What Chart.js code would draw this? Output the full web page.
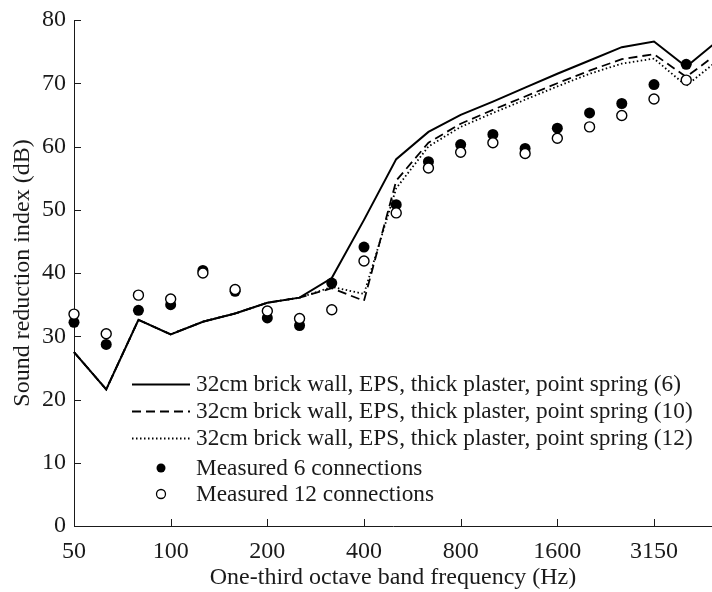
<!DOCTYPE html>
<html>
<head>
<meta charset="utf-8">
<title>Sound reduction index</title>
<script src="https://cdn.jsdelivr.net/npm/chart.js@4.4.1/dist/chart.umd.min.js"></script>
<style>
  html, body { margin: 0; padding: 0; background: #fff; }
  #c { display: block; }
</style>
</head>
<body>
<canvas id="c" width="712" height="592"></canvas>
<script>
// One-third octave band centre frequencies (Hz)
const bands = [50, 63, 80, 100, 125, 160, 200, 250, 315, 400, 500, 630, 800, 1000, 1250, 1600, 2000, 2500, 3150, 4000, 5000];
// Bands that carry a tick label on the frequency axis
const tickBands = [50, 100, 200, 400, 800, 1600, 3150];

// Predicted sound reduction index (dB), point-spring model with 6, 10 and 12 connections
const predicted6  = [27.5, 21.6, 32.6, 30.3, 32.3, 33.6, 35.3, 36.1, 39.2, 48.4, 58.0, 62.3, 65.0, 67.1, 69.3, 71.5, 73.6, 75.7, 76.6, 72.6, 76.8];
const predicted10 = [27.5, 21.6, 32.6, 30.3, 32.3, 33.6, 35.3, 36.1, 37.6, 35.6, 54.6, 60.6, 63.6, 65.8, 67.9, 70.0, 72.0, 73.8, 74.6, 71.0, 74.8];
const predicted12 = [27.5, 21.6, 32.6, 30.3, 32.3, 33.6, 35.3, 36.1, 37.8, 36.7, 53.4, 60.0, 63.1, 65.3, 67.4, 69.5, 71.5, 73.1, 73.9, 69.6, 73.7];

// Measured sound reduction index (dB), 50 Hz to 4000 Hz
const measured6  = [32.2, 28.7, 34.1, 35.0, 40.4, 37.1, 32.9, 31.7, 38.4, 44.1, 50.8, 57.6, 60.3, 61.9, 59.7, 62.9, 65.3, 66.8, 69.8, 73.0];
const measured12 = [33.5, 30.4, 36.5, 35.9, 40.0, 37.4, 34.0, 32.8, 34.2, 41.9, 49.5, 56.6, 59.1, 60.6, 58.9, 61.3, 63.1, 64.9, 67.5, 70.5];

const seriesNames = [
  '32cm brick wall, EPS, thick plaster, point spring (6)',
  '32cm brick wall, EPS, thick plaster, point spring (10)',
  '32cm brick wall, EPS, thick plaster, point spring (12)',
  'Measured 6 connections',
  'Measured 12 connections'
];

const FONT = 'Liberation Serif, Times New Roman, serif';
const FSIZE = 24;
const LEGEND_FSIZE = 23.3;
const INK = '#1a1a1a';

const toPoints = arr => arr.map((v, i) => ({ x: i, y: v }));

// Inward tick marks on both axes plus the in-plot legend
const axisDecor = {
  id: 'axisDecor',
  afterDraw(chart) {
    const { ctx, chartArea, scales: { x, y } } = chart;
    ctx.save();
    ctx.strokeStyle = INK;
    ctx.lineWidth = 1;
    ctx.beginPath();
    y.ticks.forEach(t => {
      const py = Math.round(y.getPixelForValue(t.value)) + 0.5;
      ctx.moveTo(chartArea.left, py);
      ctx.lineTo(chartArea.left + 7, py);
    });
    x.ticks.forEach(t => {
      const px = Math.round(x.getPixelForValue(t.value)) + 0.5;
      ctx.moveTo(px, chartArea.bottom);
      ctx.lineTo(px, chartArea.bottom - 7);
    });
    ctx.stroke();

    // legend
    const rows = [384, 411, 438, 468, 494];
    const x0 = 132, x1 = 190, tx = 196;
    ctx.font = LEGEND_FSIZE + 'px ' + FONT;
    ctx.textBaseline = 'middle';
    ctx.textAlign = 'left';
    chart.data.datasets.forEach((ds, i) => {
      const ry = rows[i];
      ctx.strokeStyle = '#000';
      ctx.fillStyle = '#000';
      if (ds.showLine !== false) {
        ctx.beginPath();
        ctx.lineWidth = ds.borderWidth;
        ctx.setLineDash(ds.borderDash || []);
        ctx.moveTo(x0, ry + 0.5);
        ctx.lineTo(x1, ry + 0.5);
        ctx.stroke();
        ctx.setLineDash([]);
      } else {
        ctx.beginPath();
        ctx.arc((x0 + x1) / 2, ry, 4.5, 0, Math.PI * 2);
        if (ds.pointBackgroundColor === '#000') {
          ctx.fill();
        } else {
          ctx.lineWidth = 1.3;
          ctx.stroke();
        }
      }
      ctx.fillStyle = INK;
      ctx.fillText(ds.label, tx, ry + 1);
    });
    ctx.restore();
  }
};

new Chart(document.getElementById('c'), {
  type: 'line',
  data: {
    datasets: [
      { label: seriesNames[0], data: toPoints(predicted6), borderColor: '#000', borderWidth: 2, pointRadius: 0, fill: false, clip: false, order: 3 },
      { label: seriesNames[1], data: toPoints(predicted10), borderColor: '#000', borderWidth: 1.8, borderDash: [9, 5], pointRadius: 0, fill: false, clip: false, order: 4 },
      { label: seriesNames[2], data: toPoints(predicted12), borderColor: '#000', borderWidth: 1.8, borderDash: [1.5, 2.5], pointRadius: 0, fill: false, clip: false, order: 5 },
      { label: seriesNames[3], data: toPoints(measured6), showLine: false, pointRadius: 5.5, pointBackgroundColor: '#000', pointBorderColor: '#000', pointBorderWidth: 0, clip: false, order: 2 },
      { label: seriesNames[4], data: toPoints(measured12), showLine: false, pointRadius: 5, pointBackgroundColor: '#fff', pointBorderColor: '#000', pointBorderWidth: 1.4, clip: false, order: 1 }
    ]
  },
  options: {
    responsive: false,
    animation: false,
    devicePixelRatio: 1,
    layout: { autoPadding: false, padding: { top: 20, right: 0, left: 0, bottom: 0 } },
    plugins: { legend: { display: false }, tooltip: { enabled: false } },
    elements: { line: { tension: 0 } },
    scales: {
      x: {
        type: 'linear',
        min: 0,
        max: 19.8,
        afterBuildTicks: s => { s.ticks = tickBands.map(f => ({ value: bands.indexOf(f) })); },
        afterFit: s => { s.height = 66; s.paddingLeft = 0; s.paddingRight = 0; },
        ticks: {
          autoSkip: false,
          maxRotation: 0,
          padding: 11,
          color: INK,
          font: { family: FONT, size: FSIZE },
          callback: v => String(bands[v])
        },
        grid: { drawOnChartArea: false, drawTicks: false },
        border: { display: true, color: INK, width: 1 },
        title: {
          display: true,
          text: 'One-third octave band frequency (Hz)',
          color: INK,
          font: { family: FONT, size: FSIZE },
          padding: { top: 0, bottom: 0 }
        }
      },
      y: {
        min: 0,
        max: 80,
        afterFit: s => { s.width = 74; s.paddingTop = 0; s.paddingBottom = 0; },
        ticks: {
          stepSize: 10,
          padding: 8,
          color: INK,
          font: { family: FONT, size: FSIZE }
        },
        grid: { drawOnChartArea: false, drawTicks: false },
        border: { display: true, color: INK, width: 1 },
        title: {
          display: true,
          text: 'Sound reduction index (dB)',
          color: INK,
          font: { family: FONT, size: FSIZE },
          padding: { top: 8, bottom: 0 }
        }
      }
    }
  },
  plugins: [axisDecor]
});
</script>
</body>
</html>
